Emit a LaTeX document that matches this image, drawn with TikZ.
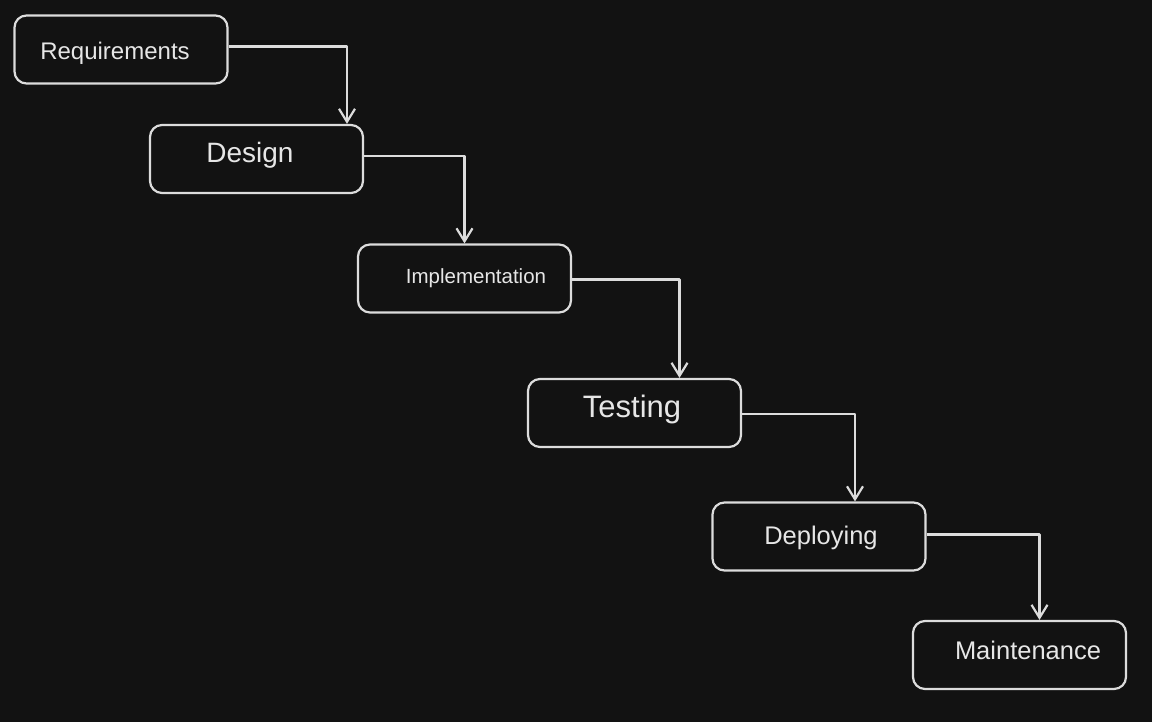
\documentclass[tikz,border=0pt]{standalone}
\usepackage{fontspec}
\setmainfont{Liberation Sans}
\usetikzlibrary{arrows.meta}
\definecolor{bgc}{HTML}{121212}
\definecolor{strokec}{HTML}{DCDCDC}
\definecolor{textc}{HTML}{E6E6E6}
\tikzset{
  phase/.style={draw=strokec, line width=2.2pt, rounded corners=12pt, fill=bgc,
    minimum width=213pt, minimum height=68pt, inner sep=0pt},
  phasetext/.style={text=textc, inner sep=0pt},
  conn/.style={draw=strokec, line width=2.4pt, line join=round,
    -{Straight Barb[length=13pt,width=16pt,line width=2.2pt]}},
}
\begin{document}
\begin{tikzpicture}[x=1pt,y=-1pt]
\fill[bgc] (0,0) rectangle (1152,722);
\useasboundingbox (0,0) rectangle (1152,722);
\node[phase, label={[phasetext, xshift=-6pt, yshift=-3.5pt, font=\fontsize{24}{28}\selectfont]center:Requirements}] (req) at (121,49.5) {};
\node[phase, label={[phasetext, xshift=-6.5pt, yshift=4pt, font=\fontsize{28}{32}\selectfont]center:Design}] (des) at (256.5,159) {};
\node[phase, label={[phasetext, xshift=11.5pt, yshift=0.5pt, font=\fontsize{20.5}{24}\selectfont]center:Implementation}] (imp) at (464.5,278.5) {};
\node[phase, label={[phasetext, xshift=-2.5pt, yshift=4pt, font=\fontsize{31}{35}\selectfont]center:Testing}] (tst) at (634.5,413) {};
\node[phase, label={[phasetext, xshift=2pt, yshift=-1.5pt, font=\fontsize{25.5}{30}\selectfont]center:Deploying}] (dep) at (819,536.5) {};
\node[phase, label={[phasetext, xshift=8.5pt, yshift=5pt, font=\fontsize{25.5}{30}\selectfont]center:Maintenance}] (mnt) at (1019.5,655) {};
\draw[conn] ([yshift=3pt]req.east) -| ([xshift=90.5pt]des.north);
\draw[conn] ([yshift=3pt]des.east) -| (imp.north);
\draw[conn] ([yshift=-1pt]imp.east) -| ([xshift=45pt]tst.north);
\draw[conn] ([yshift=-1pt]tst.east) -| ([xshift=36pt]dep.north);
\draw[conn] ([yshift=2pt]dep.east) -| ([xshift=20pt]mnt.north);
\end{tikzpicture}
\end{document}
